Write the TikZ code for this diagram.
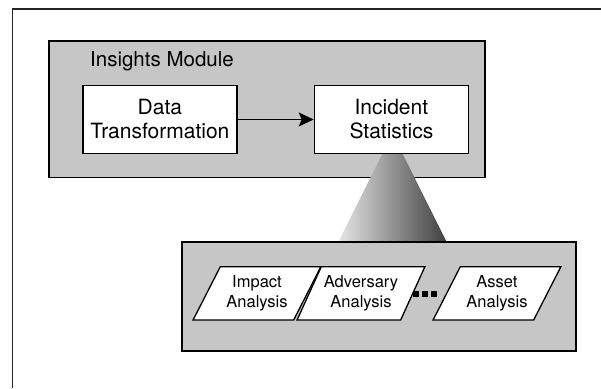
\documentclass[tikz,border=0pt]{standalone}
\usepackage{fontspec}
\setmainfont{TeX Gyre Heros}
\usetikzlibrary{arrows.meta}
\usetikzlibrary{shapes.geometric}
\definecolor{modgray}{RGB}{198,198,198}

\tikzset{
 module/.style={draw, line width=1.6pt, fill=modgray, inner sep=0},
 block/.style={draw, line width=1.4pt, fill=white, minimum width=154pt, minimum height=68.4pt, inner sep=0, align=center, font=\fontsize{21}{24}\selectfont},
 analysis/.style={trapezium, trapezium left angle=57.5, trapezium right angle=122.5, trapezium stretches=true, draw, line width=1.3pt, fill=white, minimum width=128pt, minimum height=53.3pt, inner sep=0, align=center, font=\fontsize{16.5}{20}\selectfont},
 dotbox/.style={fill=black, inner sep=0, minimum size=5.5pt}
}

\begin{document}
\begin{tikzpicture} [x=1pt, y=-1pt]
\useasboundingbox (0,0) rectangle (601,388);
\draw[black!85, line width=1.2pt] (12.6,388) -- (12.6,9) -- (601,9);
\node[module, minimum width=436pt, minimum height=136.6pt] (insights) at (267,109) {};
\node[anchor=base west, inner sep=0, font=\fontsize{20.5}{24}\selectfont] (insightslabel) at (90,66.5) {Insights Module};
\coordinate (apex) at (392.5,133.7);
\coordinate (baseL) at (338.4,241.7);
\coordinate (baseR) at (446.5,241.7);
\shade[left color=black!10, right color=black!75] (apex) -- (baseL) -- (baseR) -- cycle;
\node[block] (data) at (159.9,119.5) {Data\\Transformation};
\node[block] (incident) at (391.4,119.5) {Incident\\Statistics};
\draw[line width=1.1pt, -{Stealth[length=15pt, width=14pt, inset=3pt]}] (data) -- (incident);
\node[module, minimum width=394pt, minimum height=109pt] (analyses) at (378.7,296.2) {};
\node[analysis] (impact) at (257,293.3) {Impact\\Analysis};
\node[analysis] (adversary) at (361,293.3) {Adversary\\Analysis};
\node[analysis] (asset) at (497,293.3) {Asset\\Analysis};
\foreach \x [count=\i] in {416,425,434} {
 \node[dotbox] (dot\i) at (\x,294) {};
}
\end{tikzpicture}
\end{document}
